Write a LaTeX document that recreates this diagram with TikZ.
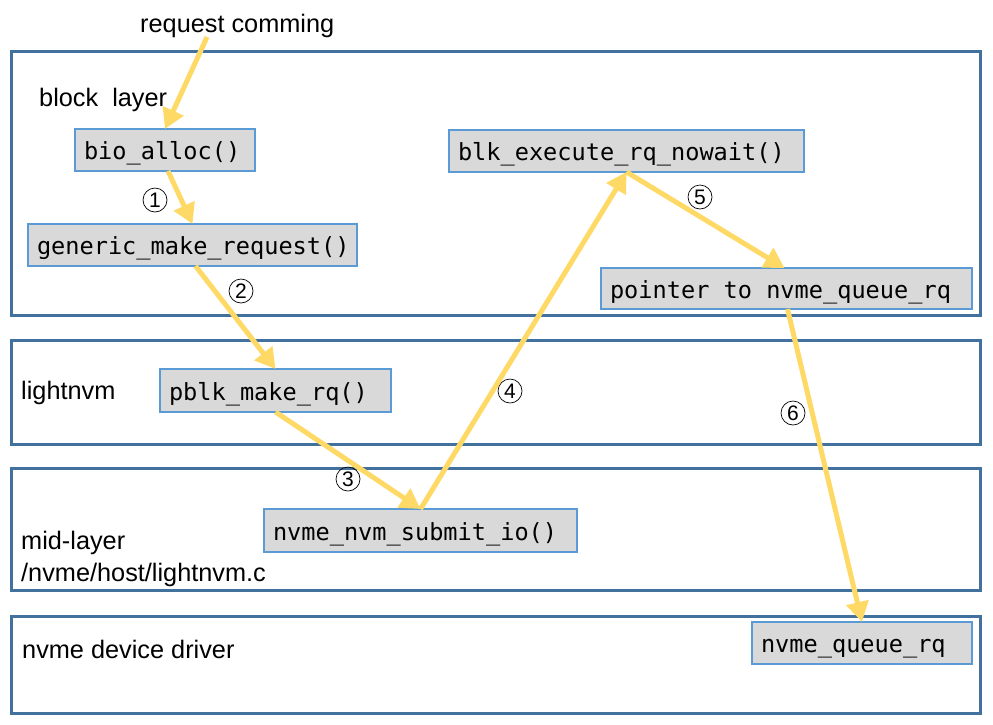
\documentclass[tikz,border=0pt]{standalone}
\usepackage{fontspec}
\setmainfont{Liberation Sans}
\setmonofont{DejaVu Sans Mono}
\usetikzlibrary{arrows.meta}
\definecolor{layerblue}{HTML}{41719C}
\definecolor{fnfill}{HTML}{D9D9D9}
\definecolor{fnborder}{HTML}{5B9BD5}
\definecolor{flow}{HTML}{FFD966}
\newcommand{\msp}{\hspace{0.602em}}
\begin{document}
\begin{tikzpicture}[x=1pt,y=-1pt,
 layer/.style={draw=layerblue, line width=3pt, anchor=north west, inner sep=0pt, outer sep=0pt},
 fn/.style={draw=fnborder, line width=1.2pt, fill=fnfill, anchor=north west, inner xsep=9pt, inner ysep=0pt, outer sep=0pt, align=left, text height=20pt, text depth=1pt, font=\fontsize{23.6}{28}\selectfont\ttfamily},
 lbl/.style={anchor=west, inner sep=0pt, font=\fontsize{25.3}{30}\selectfont},
 num/.style={circle, draw=black, line width=0.7pt, minimum size=24pt, inner sep=0pt, font=\fontsize{21}{21}\selectfont},
 flowarrow/.style={draw=flow, line width=5pt, -{Triangle[length=20pt,width=22pt]}},
]
\useasboundingbox (0,0) rectangle (993,724);

% layers
\node[layer, minimum width=969pt, minimum height=264pt] (blockL) at (11,51) {};
\node[layer, minimum width=969pt, minimum height=104pt] (lightL) at (11,340) {};
\node[layer, minimum width=969pt, minimum height=122pt] (midL) at (11,468) {};
\node[layer, minimum width=969pt, minimum height=97pt] (devL) at (11,616) {};

% labels
\node[lbl] (reqtxt) at (140,26) {request comming};
\node[lbl] (blocktxt) at (39,100) {block\ \ layer};
\node[lbl] (lighttxt) at (21,393) {lightnvm};
\node[lbl] (midtxt) at (21,543) {mid-layer};
\node[lbl] (pathtxt) at (21,575) {/nvme/host/lightnvm.c};
\node[lbl] (devtxt) at (22,649) {nvme device driver};

% functions
\node[fn, text width=162pt, minimum height=42pt] (bio) at (75,129) {bio\_alloc()};
\node[fn, text width=311pt, minimum height=42pt] (gen) at (28,224) {generic\_make\_request()};
\node[fn, text width=337pt, minimum height=42pt] (blk) at (449,130) {blk\_execute\_rq\_nowait()};
\node[fn, text width=353pt, minimum height=41pt] (ptr) at (601,268) {pointer\msp to\msp nvme\_queue\_rq};
\node[fn, text width=213pt, minimum height=43pt] (pblk) at (160,369) {pblk\_make\_rq()};
\node[fn, text width=295pt, minimum height=43pt] (sub) at (264,509) {nvme\_nvm\_submit\_io()};
\node[fn, text width=202pt, minimum height=42pt] (nq) at (752,622) {nvme\_queue\_rq};

% step numbers
\node[num] (n1) at (155,200) {1};
\node[num] (n2) at (241,291) {2};
\node[num] (n3) at (348,479) {3};
\node[num] (n4) at (510,391) {4};
\node[num] (n5) at (700,197) {5};
\node[num] (n6) at (793,413) {6};

% flow
\coordinate (reqstart) at (207,37);
\draw[flowarrow] (reqstart) -- (bio.north);
\draw[flowarrow] ([xshift=3pt]bio.south) -- (gen.north);
\draw[flowarrow] ([xshift=3pt]gen.south) -- (pblk.north);
\draw[flowarrow] (pblk.south) -- (sub.north);
\draw[flowarrow] (sub.north) -- (blk.south);
\draw[flowarrow] (blk.south) -- ([xshift=-2pt]ptr.north);
\draw[flowarrow] ([xshift=1pt]ptr.south) -- (nq.north);
\end{tikzpicture}
\end{document}
